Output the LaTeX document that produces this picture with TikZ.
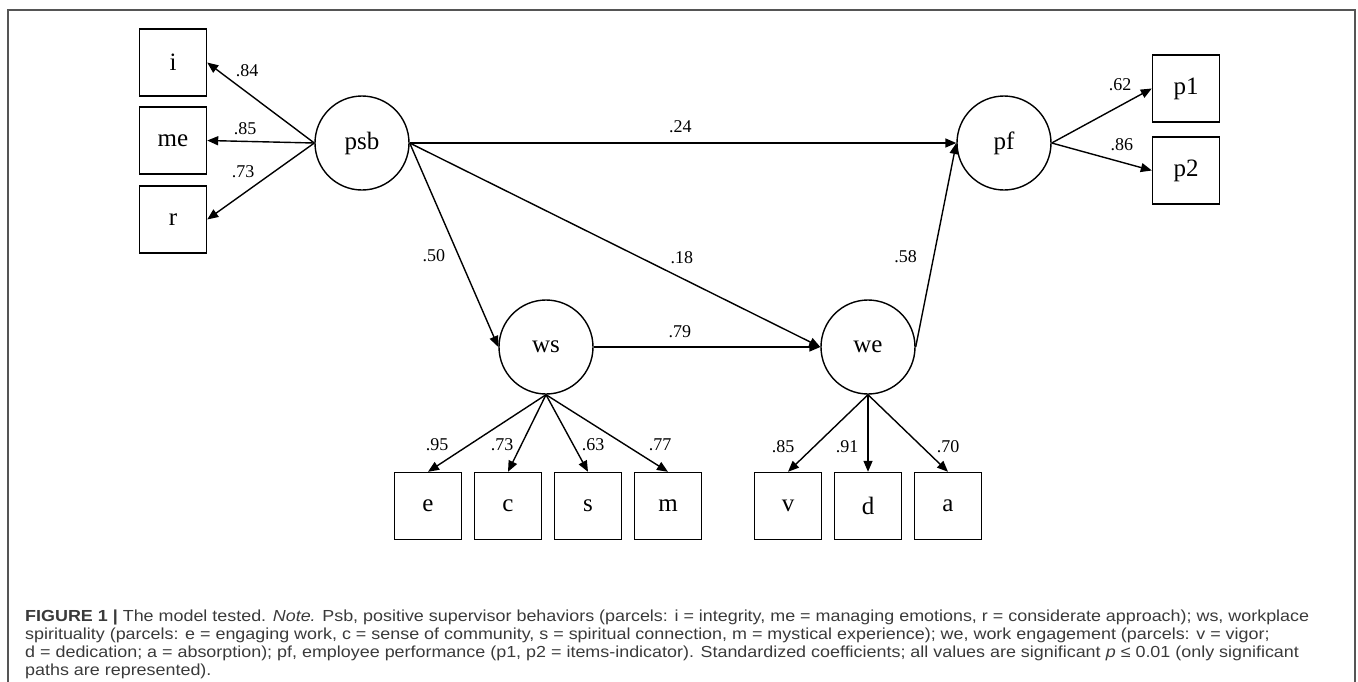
\documentclass[tikz,border=0pt]{standalone}
\usepackage{fontspec}
\setmainfont{Liberation Serif}
\newfontfamily\capfont[FakeStretch=1.12]{Liberation Sans}
\usetikzlibrary{arrows.meta}
\definecolor{captext}{HTML}{3A3A3A}
\definecolor{framecol}{HTML}{555555}
\begin{document}
\begin{tikzpicture}[x=1pt,y=-1pt,
  latent/.style={circle, draw, line width=1.4pt, minimum size=94pt, inner sep=0pt, font=\fontsize{25}{25}\selectfont},
  obs/.style={rectangle, draw, line width=1.4pt, minimum size=67pt, inner sep=0pt, font=\fontsize{25}{25}\selectfont},
  pathar/.style={line width=1.4pt, -{Triangle[length=11pt,width=9pt]}},
  lab/.style={font=\fontsize{18}{18}\selectfont, inner sep=0pt},
  capline/.style={anchor=base west, inner sep=0pt, font=\capfont\fontsize{16}{18}\selectfont, text=captext}]
\useasboundingbox (0,0) rectangle (1358,681);
\draw[framecol, line width=1.3pt] (8,700) -- (8,10) -- (1355,10) -- (1355,700);

% latent variables
\node[latent] (psb) at (362,143) {psb};
\node[latent] (pf)  at (1004,143) {pf};
\node[latent] (ws)  at (546,347) {ws};
\node[latent] (we)  at (868,347) {we};

% indicators
\node[obs] (i)  at (173,62.5) {i};
\node[obs] (me) at (173,140.5) {me};
\node[obs] (r)  at (173,219.5) {r};
\node[obs] (p1) at (1186,88.5) {p1};
\node[obs] (p2) at (1186,170.5) {p2};
\node[obs] (e)  at (428,506) {e};
\node[obs] (c)  at (508,506) {c};
\node[obs] (s)  at (588,506) {s};
\node[obs] (m)  at (668,506) {m};
\node[obs] (v)  at (788,506) {v};
\node[obs] (d)  at (868,506) {d};
\node[obs] (a)  at (948,506) {a};

% loadings psb
\draw[pathar] (psb.west) -- node[lab, pos=0.627, yshift=21.5pt] {.84} (i.east);
\draw[pathar] (psb.west) -- node[lab, pos=0.645, yshift=12.6pt] {.85} (me.east);
\draw[pathar] (psb.west) -- node[lab, pos=0.664, yshift=21.8pt] {.73} (r.east);

% structural paths
\draw[pathar] (psb.east) -- node[lab, pos=0.495, yshift=16pt] {.24} (pf.west);
\draw[pathar] (psb.east) -- node[lab, pos=0.554, xshift=-25pt] {.50} (ws.west);
\draw[pathar] (psb.east) -- node[lab, pos=0.663, yshift=21pt] {.18} (we.west);
\draw[pathar] (ws.east) -- node[lab, pos=0.38, yshift=15pt] {.79} (we.west);
\draw[pathar] (we.east) -- node[lab, pos=0.441, xshift=-28pt] {.58} (pf.west);

% loadings pf
\draw[pathar] (pf.east) -- node[lab, pos=0.683, yshift=20.8pt] {.62} (p1.west);
\draw[pathar] (pf.east) -- node[lab, pos=0.702, yshift=17.3pt] {.86} (p2.west);

% loadings ws
\draw[pathar] (ws.south) -- node[lab, pos=0.65, xshift=-32.3pt] {.95} (e.north);
\draw[pathar] (ws.south) -- node[lab, pos=0.65, xshift=-19.3pt] {.73} (c.north);
\draw[pathar] (ws.south) -- node[lab, pos=0.65, xshift=19.7pt] {.63} (s.north);
\draw[pathar] (ws.south) -- node[lab, pos=0.65, xshift=34.7pt] {.77} (m.north);

% loadings we
\draw[pathar] (we.south) -- node[lab, pos=0.675, xshift=-31pt] {.85} (v.north);
\draw[pathar] (we.south) -- node[lab, pos=0.675, xshift=-21pt] {.91} (d.north);
\draw[pathar] (we.south) -- node[lab, pos=0.675, xshift=26pt] {.70} (a.north);

% caption
\node[capline] (cap1) at (25,621) {\textbf{FIGURE 1 |} The model tested. \textit{Note.} Psb, positive supervisor behaviors (parcels: i = integrity, me = managing emotions, r = considerate approach); ws, workplace};
\node[capline] (cap2) at (25,639) {spirituality (parcels: e = engaging work, c = sense of community, s = spiritual connection, m = mystical experience); we, work engagement (parcels: v = vigor;};
\node[capline] (cap3) at (25,657) {d = dedication; a = absorption); pf, employee performance (p1, p2 = items-indicator). Standardized coefficients; all values are significant \textit{p} ≤ 0.01 (only significant};
\node[capline] (cap4) at (25,675) {paths are represented).};
\end{tikzpicture}
\end{document}
